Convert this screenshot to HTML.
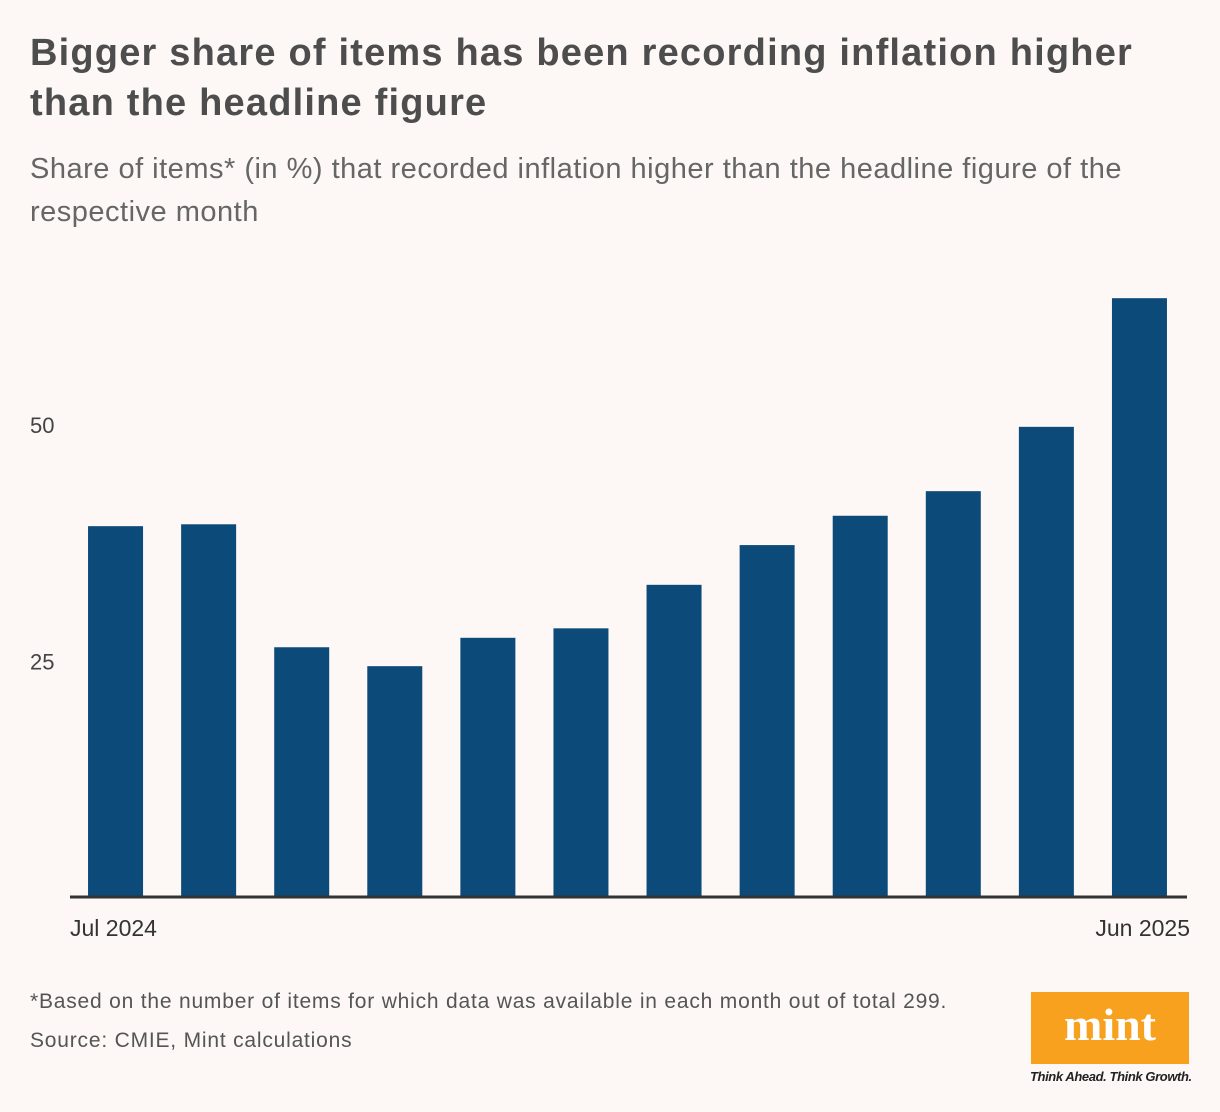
<!DOCTYPE html>
<html><head><meta charset="utf-8"><style>
body{margin:0;width:1220px;height:1112px;background:#fdf8f6;font-family:"Liberation Sans",sans-serif;position:relative;overflow:hidden}
.t{position:absolute;left:30px;top:28px;font-size:38px;font-weight:bold;color:#4d4d4d;line-height:50px;letter-spacing:1.2px;width:1160px}
.s{position:absolute;left:30px;top:148px;font-size:29px;color:#666;line-height:43px;width:1120px;letter-spacing:0.5px}
.f{position:absolute;left:30px;font-size:21px;color:#555;letter-spacing:0.8px}
</style></head><body>
<div class="t">Bigger share of items has been recording inflation higher than the headline figure</div>
<div class="s">Share of items* (in %) that recorded inflation higher than the headline figure of the respective month</div>
<svg id="c" width="1220" height="960" style="position:absolute;left:0;top:0"></svg>
<div class="f" style="top:990px">*Based on the number of items for which data was available in each month out of total 299.</div>
<div class="f" style="top:1029px">Source: CMIE, Mint calculations</div>
<div style="position:absolute;left:1031px;top:992px;width:158px;height:72px;background:#f7a11f;color:#fff;font-family:'Liberation Serif',serif;font-weight:bold;font-size:46px;text-align:center;line-height:66px">mint</div>
<div style="position:absolute;left:1030px;top:1069px;font-size:13px;font-style:italic;font-weight:bold;color:#222;letter-spacing:-0.4px">Think Ahead. Think Growth.</div>
<script>
const categories=["Jul 2024","Aug 2024","Sep 2024","Oct 2024","Nov 2024","Dec 2024","Jan 2025","Feb 2025","Mar 2025","Apr 2025","May 2025","Jun 2025"];
const values=[39.2,39.4,26.4,24.4,27.4,28.4,33.0,37.2,40.3,42.9,49.7,63.3];
const yTicks=[25,50];
const NS="http://www.w3.org/2000/svg",svg=document.getElementById('c');
const x0=70,x1=1187,y0=897,k=9.46,band=(x1-x0)/categories.length,bw=55;
const y=v=>y0-v*k, xc=i=>x0+band*(i+0.5)-1;
function mk(t,a){const e=document.createElementNS(NS,t);for(const n in a)e.setAttribute(n,a[n]);svg.appendChild(e);return e;}
yTicks.forEach(t=>{const e=mk('text',{x:30,y:y(t)+9,'font-size':22,fill:'#444','font-family':'Liberation Sans'});e.textContent=t;

});
values.forEach((v,i)=>{const r=mk('rect',{x:xc(i)-bw/2,y:y(v),width:bw,height:v*k,fill:'#0c4a79'});

});
const ax=mk('line',{x1:x0,x2:x1,y1:y0,y2:y0,stroke:'#333','stroke-width':3});


[[0,'start',x0],[categories.length-1,'end',x1+3]].forEach(([i,a,px])=>{const e=mk('text',{x:px,y:936,'font-size':23,fill:'#333','text-anchor':a,'font-family':'Liberation Sans'});e.textContent=categories[i];

});
</script>
</body></html>
